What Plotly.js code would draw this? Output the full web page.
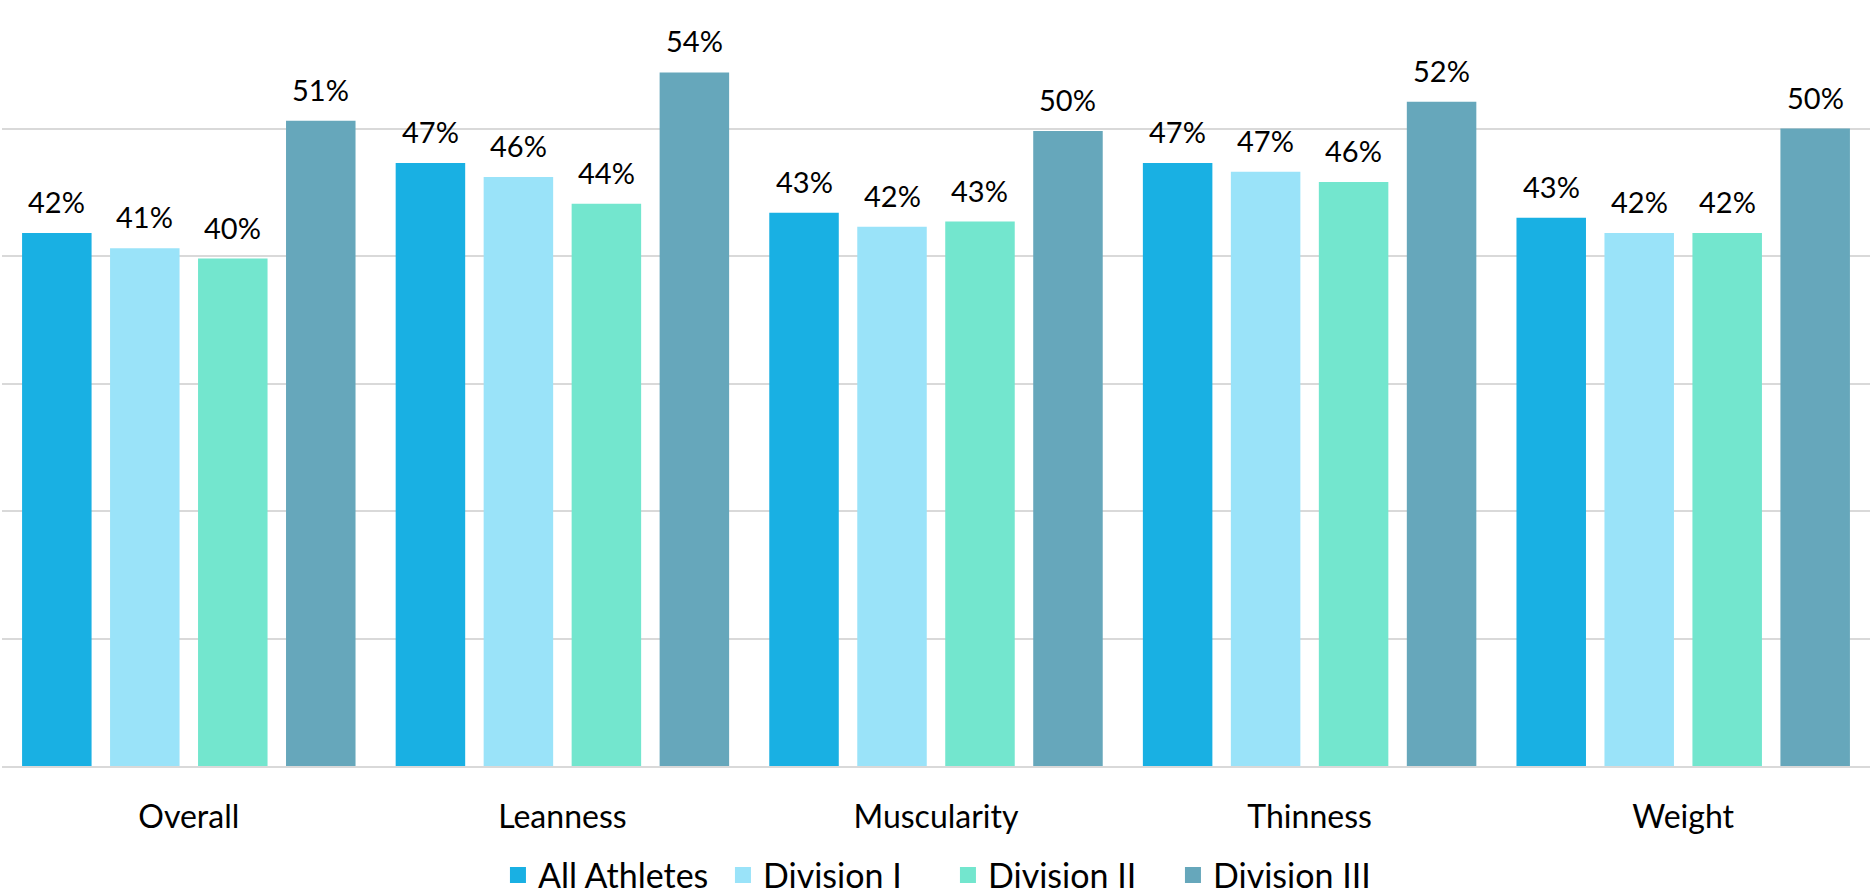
<!DOCTYPE html>
<html>
<head>
<meta charset="utf-8">
<script src="https://cdn.plot.ly/plotly-3.0.1.min.js"></script>
<style>
  html, body { margin: 0; padding: 0; background: #ffffff; }
  #chart { width: 1873px; height: 896px; }
</style>
</head>
<body>
<div id="chart"></div>
<script>
// Categories and series values (percent)
const categories = ["Overall", "Leanness", "Muscularity", "Thinness", "Weight"];
const seriesNames = ["All Athletes", "Division I", "Division II", "Division III"];
const allAthletes = [41.8, 47.3, 43.4, 47.3, 43.0];
const divisionI   = [40.6, 46.2, 42.3, 46.6, 41.8];
const divisionII  = [39.8, 44.1, 42.7, 45.8, 41.8];
const divisionIII = [50.6, 54.4, 49.8, 52.1, 50.0];
const colors = ["#19B0E3", "#9AE3F9", "#73E6CE", "#66A7BB"];

const seriesValues = [allAthletes, divisionI, divisionII, divisionIII];
const FONT = "Lato, 'Open Sans', sans-serif";
const BARGAP = 0.058;
const nSeries = seriesValues.length;

const traces = [];
seriesValues.forEach((vals, i) => {
  traces.push({
    type: "bar",
    name: seriesNames[i],
    x: categories,
    y: vals,
    marker: { color: colors[i], line: { width: 0 } },
    showlegend: false,
    hoverinfo: "skip"
  });
});
// legend entries (larger square symbols)
seriesNames.forEach((n, i) => {
  traces.push({
    type: "scatter",
    mode: "markers",
    name: n,
    x: [null],
    y: [null],
    marker: { symbol: "square", size: 19, color: colors[i] },
    showlegend: true,
    hoverinfo: "skip"
  });
});

// data labels above each bar, placed on the axes' own coordinates
const slot = (1 - BARGAP) / nSeries;
const annotations = [];
seriesValues.forEach((vals, k) => {
  vals.forEach((v, ci) => {
    annotations.push({
      xref: "x", yref: "y",
      x: ci + (k - (nSeries - 1) / 2) * slot,
      y: v,
      text: Math.round(v) + "%",
      showarrow: false,
      xanchor: "center",
      yanchor: "bottom",
      yshift: 12,
      font: { family: FONT, size: 29, color: "#000000" }
    });
  });
});

const layout = {
  width: 1873,
  height: 896,
  margin: { l: 2, r: 3, t: 1, b: 130, autoexpand: false },
  paper_bgcolor: "#ffffff",
  plot_bgcolor: "#ffffff",
  barmode: "group",
  bargap: BARGAP,
  bargroupgap: 0.21,
  font: { family: FONT, color: "#000000" },
  annotations: annotations,
  xaxis: {
    type: "category",
    showgrid: false,
    showline: true,
    linecolor: "#D9D9D9",
    linewidth: 2,
    ticks: "",
    ticklabelstandoff: 22,
    tickfont: { family: FONT, size: 32, color: "#000000" },
    fixedrange: true
  },
  yaxis: {
    range: [0, 60],
    dtick: 10,
    showgrid: true,
    gridcolor: "#D9D9D9",
    gridwidth: 2,
    showticklabels: false,
    zeroline: false,
    showline: false,
    ticks: "",
    fixedrange: true
  },
  showlegend: true,
  legend: {
    orientation: "h",
    x: 0.5064,
    xanchor: "center",
    y: -0.143,
    yanchor: "middle",
    entrywidth: 180,
    entrywidthmode: "pixels",
    font: { family: FONT, size: 34, color: "#000000" },
    itemclick: false,
    itemdoubleclick: false
  }
};

Plotly.newPlot("chart", traces, layout, { displayModeBar: false, staticPlot: true });
</script>
</body>
</html>
